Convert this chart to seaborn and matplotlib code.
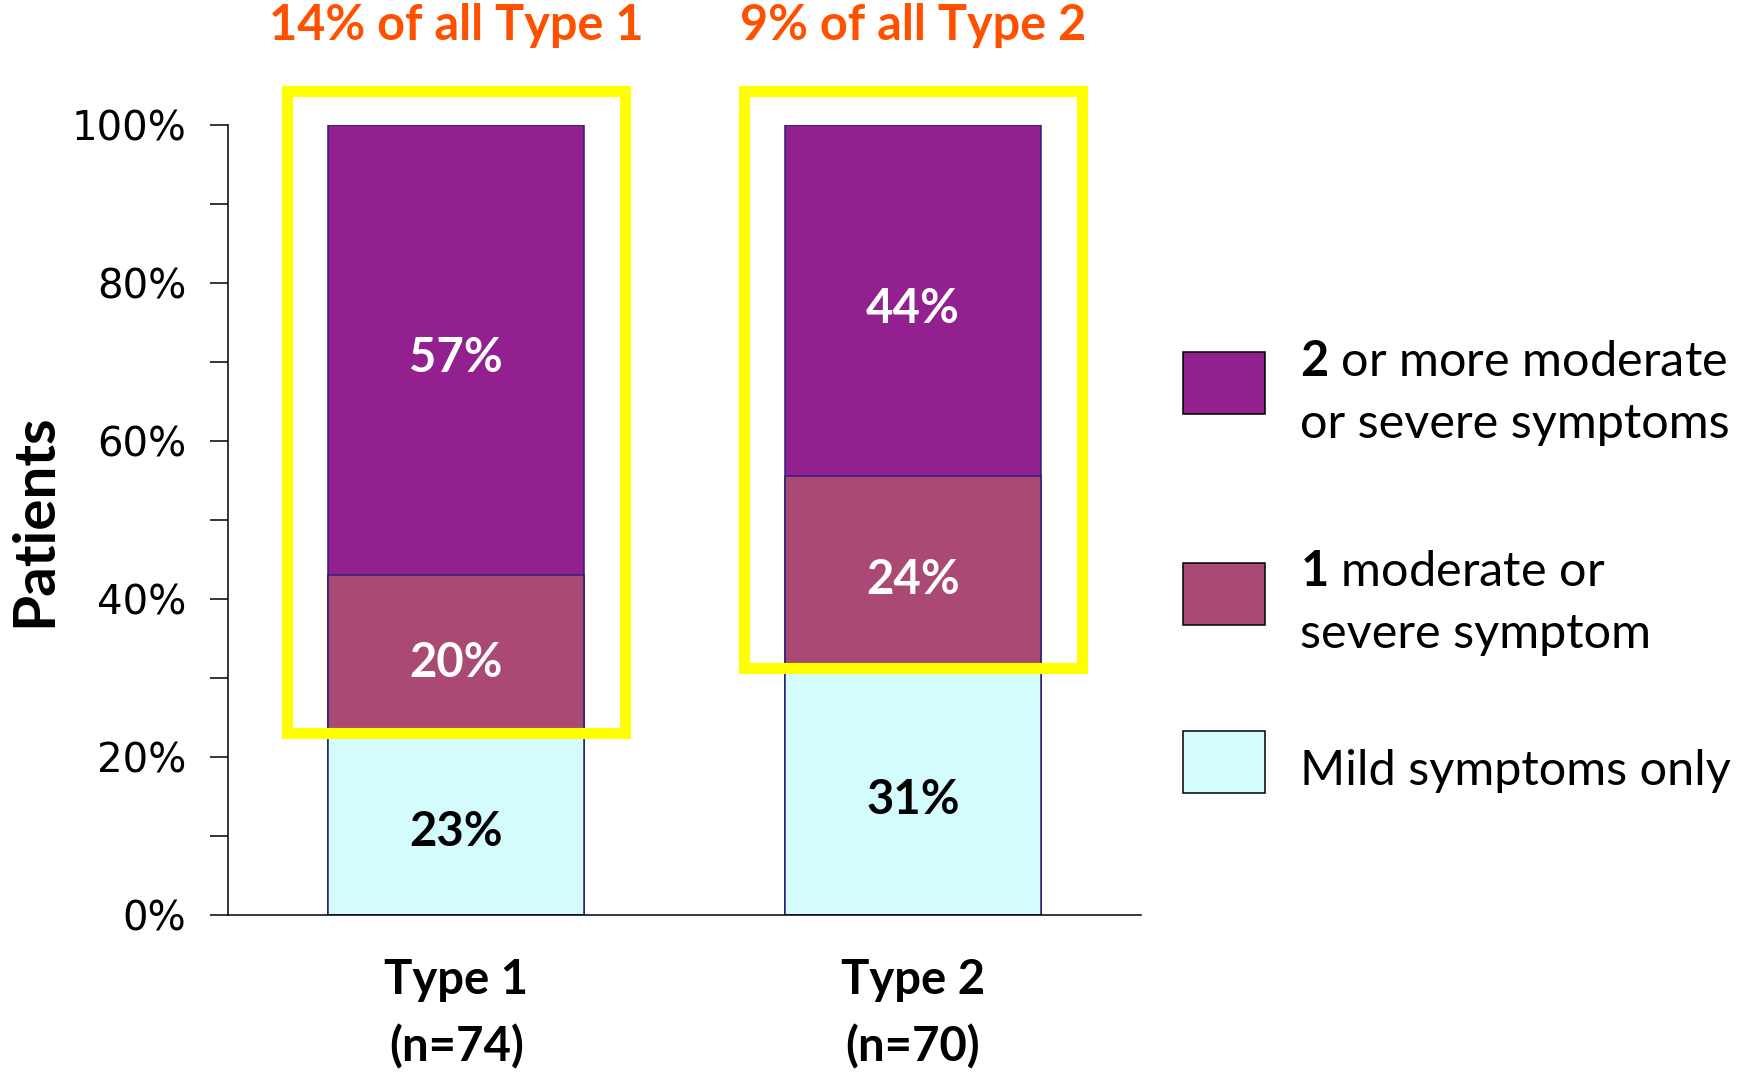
import pandas as pd
import seaborn as sns
import matplotlib.pyplot as plt
from matplotlib.patches import Rectangle
from matplotlib.ticker import MultipleLocator, FuncFormatter

# data
groups = ['Type 1\n(n=74)', 'Type 2\n(n=70)']
mild_only = [23, 31]
one_moderate = [20, 24]
two_or_more = [57, 44]
headlines = ['14% of all Type 1', '9% of all Type 2']
legend_labels = [r'$\mathbf{2}$ or more moderate' + '\nor severe symptoms',
                 r'$\mathbf{1}$ moderate or' + '\nsevere symptom',
                 'Mild symptoms only']

colors = ['#92208F', '#AA4A74', '#D4FCFC']  # 2+, 1, mild
edge = '#2B1F7A'

sns.set_style('white')
plt.rcParams['font.family'] = ['Lato', 'DejaVu Sans']
plt.rcParams['mathtext.fontset'] = 'custom'
plt.rcParams['mathtext.rm'] = 'Lato'
plt.rcParams['mathtext.bf'] = 'Lato:bold'
for key in ['text.color', 'axes.labelcolor', 'xtick.color', 'ytick.color']:
    plt.rcParams[key] = 'black'

df = pd.DataFrame({'group': groups, 'mild': mild_only,
                   'one': one_moderate, 'two': two_or_more})
total = df['mild'] + df['one'] + df['two']
# 100% stacked: cumulative shares
df['top_mild'] = df['mild'] / total * 100
df['top_one'] = (df['mild'] + df['one']) / total * 100
df['top_two'] = (df['mild'] + df['one'] + df['two']) / total * 100

fig, ax = plt.subplots(figsize=(17.45, 10.74), dpi=100)
fig.subplots_adjust(left=0.1307, right=0.6539, bottom=0.148, top=0.884)

# draw cumulative bars from the tallest down so they stack
for col, color in zip(['top_two', 'top_one', 'top_mild'], colors):
    sns.barplot(data=df, x='group', y=col, color=color, saturation=1,
                width=0.56, edgecolor=edge, linewidth=1.1, errorbar=None,
                ax=ax, zorder=2)

segments = [('mild', 'top_mild', 'black'),
            ('one', 'top_one', 'white'),
            ('two', 'top_two', 'white')]
for i, row in df.iterrows():
    lo = 0
    for val_col, top_col, tc in segments:
        hi = row[top_col]
        ax.annotate(f'{row[val_col]}%', (i, (lo + hi) / 2), xytext=(0, -6),
                    textcoords='offset points', ha='center', va='center',
                    color=tc, fontsize=34, fontweight='bold', zorder=4)
        lo = hi

    # yellow highlight box around the moderate/severe part
    base = row['top_mild']
    ax.add_patch(Rectangle((i - 0.37, base), 0.74, 104.3 - base, fill=False,
                           ec='#FFFF00', lw=8, clip_on=False, zorder=5,
                           joinstyle='miter'))
    ax.text(i, 112.5, headlines[i], ha='center', va='center', color='#FF5000',
            fontsize=35, fontweight='bold')

ax.set_xlim(-0.5, 1.5)
ax.set_ylim(0, 100)
ax.yaxis.set_major_locator(MultipleLocator(20))
ax.yaxis.set_minor_locator(MultipleLocator(10))
ax.yaxis.set_major_formatter(FuncFormatter(lambda v, p: f'{v:.0f}%'))
ax.tick_params(axis='y', which='both', direction='out', length=13, width=1.1,
               color='black', pad=17, left=True)
ax.tick_params(axis='y', labelsize=29, labelfontfamily='DejaVu Sans')
ax.tick_params(axis='x', length=0, pad=31, labelsize=34)
for lbl in ax.get_xticklabels():
    lbl.set_fontweight('bold')
    lbl.set_linespacing(1.58)

ax.set_xlabel('')
ax.set_ylabel('Patients', fontsize=42, fontweight='bold')
ax.yaxis.set_label_coords(-0.183, 0.5)

sns.despine(ax=ax)
for s in ['left', 'bottom']:
    ax.spines[s].set_linewidth(1.1)
    ax.spines[s].set_color('black')

# legend drawn by hand so the swatch sits centred on multi-line labels
legend_y = [0.673, 0.4065, 0.194]
for color, label, y in zip(colors, legend_labels, legend_y):
    ax.add_patch(Rectangle((1.046, y - 0.0392), 0.0898, 0.0784,
                           transform=ax.transAxes, fc=color, ec='black',
                           lw=1.1, clip_on=False))
    ax.text(1.174, y - 0.012, label, transform=ax.transAxes, ha='left',
            va='center', fontsize=35, linespacing=1.5)

fig.savefig('out.png', dpi=100)
